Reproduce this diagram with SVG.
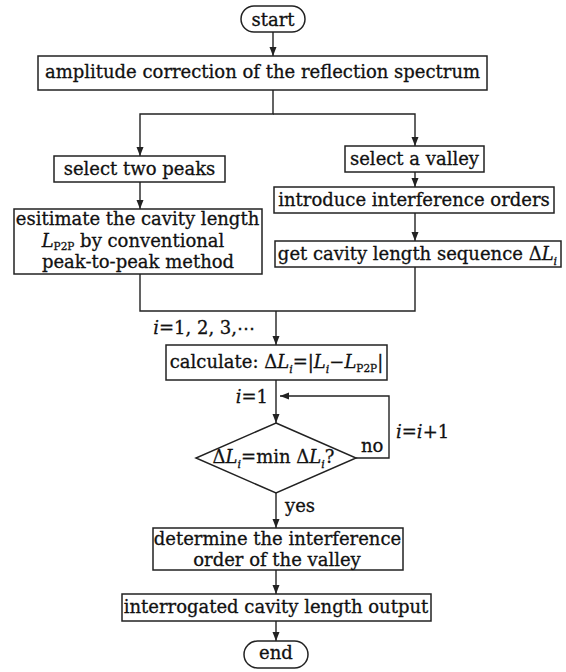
<svg xmlns="http://www.w3.org/2000/svg" width="566" height="672" viewBox="0 0 566 672">
<style>
text{font-family:"DejaVu Serif","Liberation Serif",serif;font-size:18px;fill:#111;stroke:#111;stroke-width:0.3;text-anchor:middle}
.l{text-anchor:start}
.e{text-anchor:end}
.it{font-style:italic}
.box{fill:#fff;stroke:#222;stroke-width:1.5}
.con{fill:none;stroke:#222;stroke-width:1.4}
</style>
<defs>
<marker id="ah" markerUnits="userSpaceOnUse" markerWidth="9" markerHeight="8" refX="9" refY="4" orient="auto">
<path d="M0,0.5 L9,4 L0,7.5 z" fill="#222"/>
</marker>
</defs>
<rect width="566" height="672" fill="#fff"/>
<g id="connectors">
<path class="con" d="M273,32 V56" marker-end="url(#ah)"/>
<path class="con" d="M273,90 V114 H140 V156" marker-end="url(#ah)"/>
<path class="con" d="M273,114 H415 V146" marker-end="url(#ah)"/>
<path class="con" d="M140,182 V209" marker-end="url(#ah)"/>
<path class="con" d="M415,172 V187" marker-end="url(#ah)"/>
<path class="con" d="M415,213 V241" marker-end="url(#ah)"/>
<path class="con" d="M140,274 V311 H415 V267"/>
<path class="con" d="M276,311 V345" marker-end="url(#ah)"/>
<path class="con" d="M276,380 V423" marker-end="url(#ah)"/>
<path class="con" d="M356,458 H389 V396 H280" marker-end="url(#ah)"/>
<path class="con" d="M276,493 V528" marker-end="url(#ah)"/>
<path class="con" d="M276,570 V594" marker-end="url(#ah)"/>
<path class="con" d="M276,621 V641" marker-end="url(#ah)"/>
<text class="e" x="255" y="334"><tspan class="it">i</tspan>=1, 2, 3,⋯</text>
<text class="e" x="268" y="403"><tspan class="it">i</tspan>=1</text>
<text class="l" x="361" y="452">no</text>
<text class="l" x="396" y="438"><tspan class="it">i</tspan>=<tspan class="it">i</tspan>+1</text>
<text class="l" x="285" y="512">yes</text>
</g>
<g id="start">
<rect class="box" x="241" y="6" width="64" height="26" rx="13"/>
<text x="273" y="26">start</text>
</g>
<g id="amplitude">
<rect class="box" x="38" y="56" width="449" height="34"/>
<text x="262.5" y="78">amplitude correction of the reflection spectrum</text>
</g>
<g id="peaks">
<rect class="box" x="54" y="156" width="171" height="26"/>
<text x="139.5" y="175">select two peaks</text>
</g>
<g id="estimate">
<rect class="box" x="14" y="209" width="248" height="65"/>
<text x="137.5" y="225">esitimate the cavity length</text>
<text x="133" y="247"><tspan class="it">L</tspan><tspan font-size="10.5" dy="3">P2P</tspan><tspan dy="-3"> by conventional</tspan></text>
<text x="138" y="268">peak-to-peak method</text>
</g>
<g id="valley">
<rect class="box" x="345" y="146" width="139" height="26"/>
<text x="414.5" y="165">select a valley</text>
</g>
<g id="orders">
<rect class="box" x="274" y="187" width="280" height="26"/>
<text x="414" y="206">introduce interference orders</text>
</g>
<g id="sequence">
<rect class="box" x="275" y="241" width="286" height="26"/>
<text x="417.5" y="260">get cavity length sequence Δ<tspan class="it">L</tspan><tspan class="it" font-size="11" dy="5">i</tspan></text>
</g>
<g id="calculate">
<rect class="box" x="166" y="345" width="221" height="35"/>
<text x="276.5" y="368">calculate: Δ<tspan class="it">L</tspan><tspan class="it" font-size="11" dy="5">i</tspan><tspan dy="-5">=|</tspan><tspan class="it">L</tspan><tspan class="it" font-size="11" dy="5">i</tspan><tspan dy="-5">−</tspan><tspan class="it">L</tspan><tspan font-size="10.5" dy="4">P2P</tspan><tspan dy="-4">|</tspan></text>
</g>
<g id="decision">
<path class="box" d="M276,423 L356,458 L276,493 L196,458 z"/>
<text x="273.5" y="463">Δ<tspan class="it">L</tspan><tspan class="it" font-size="11" dy="5">i</tspan><tspan dy="-5">=min Δ</tspan><tspan class="it">L</tspan><tspan class="it" font-size="11" dy="5">i</tspan><tspan dy="-5">?</tspan></text>
</g>
<g id="determine">
<rect class="box" x="153" y="528" width="250" height="42"/>
<text x="277.5" y="545">determine the interference</text>
<text x="277" y="566">order of the valley</text>
</g>
<g id="output">
<rect class="box" x="122" y="594" width="309" height="27"/>
<text x="276" y="613">interrogated cavity length output</text>
</g>
<g id="end">
<rect class="box" x="244" y="641" width="64" height="27" rx="13.5"/>
<text x="276" y="659">end</text>
</g>
</svg>
